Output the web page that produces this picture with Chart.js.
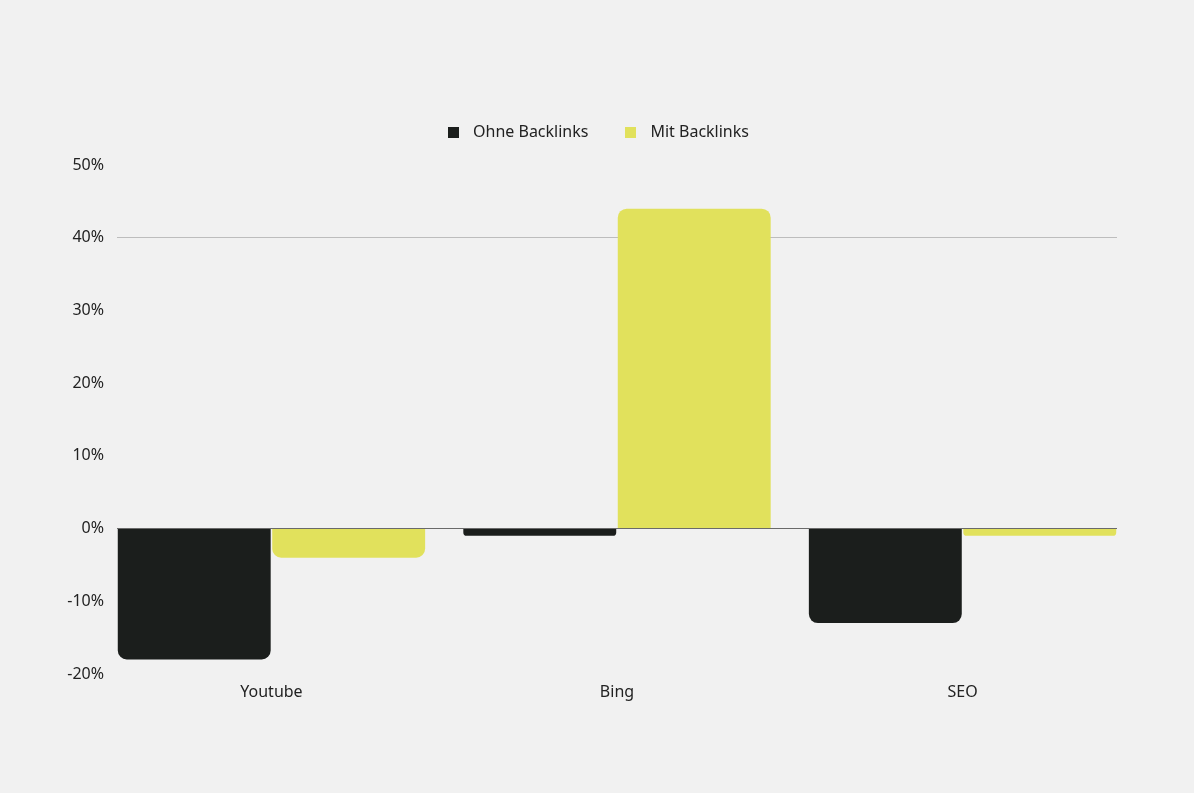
<!DOCTYPE html>
<html><head><meta charset="utf-8">
<script src="https://cdn.jsdelivr.net/npm/chart.js@4.4.1/dist/chart.umd.min.js"></script>
<style>html,body{margin:0;padding:0;background:#f1f1f1;}#wrap{width:1194px;height:793px;}</style>
</head><body><div id="wrap"><canvas id="c"></canvas></div>
<script>
const categories = ['Youtube', 'Bing', 'SEO'];
const ohneBacklinks = [-18, -1, -13];
const mitBacklinks = [-4, 44, -1];
const yTicks = [-20, -10, 0, 10, 20, 30, 40, 50];
const seriesColors = ['#1b1e1c', '#e1e15c'];

const FONT = "'Noto Sans', sans-serif";
Chart.defaults.font.family = FONT;
Chart.defaults.font.size = 16;
Chart.defaults.color = '#222222';

function squareIcon(color) {
  const c = document.createElement('canvas');
  c.width = 11; c.height = 11;
  const g = c.getContext('2d');
  g.fillStyle = color; g.fillRect(0, 0, 11, 11);
  return c;
}
const icons = seriesColors.map(squareIcon);

const legendFit = {
  id: 'legendFit',
  beforeInit(chart) {
    const orig = chart.legend.fit;
    chart.legend.fit = function () { orig.bind(chart.legend)(); this.height = 72; };
  },
  afterLayout(chart) {
    chart.legend.left += 7;
    chart.legend.right += 7;
  }
};

new Chart(document.getElementById('c'), {
  type: 'bar',
  data: {
    datasets: [
      { label: 'Ohne Backlinks', data: ohneBacklinks.map((v, i) => ({ x: i, y: v })), backgroundColor: seriesColors[0], borderRadius: 9, borderSkipped: 'start' },
      { label: 'Mit Backlinks', data: mitBacklinks.map((v, i) => ({ x: i, y: v })), backgroundColor: seriesColors[1], borderRadius: 9, borderSkipped: 'start' }
    ]
  },
  plugins: [legendFit],
  options: {
    responsive: true,
    maintainAspectRatio: false,
    animation: false,
    categoryPercentage: 0.894,
    barPercentage: 0.99,
    layout: { padding: { top: 93, left: 60, right: 77, bottom: 89 } },
    plugins: {
      legend: {
        position: 'top',
        labels: {
          usePointStyle: true,
          pointStyleWidth: 23,
          boxHeight: 11,
          padding: 31,
          font: { size: 16 },
          color: '#222222',
          generateLabels: chart => {
            const items = Chart.defaults.plugins.legend.labels.generateLabels(chart);
            items.forEach((it, i) => { it.pointStyle = icons[i]; });
            return items;
          }
        }
      },
      tooltip: { enabled: false }
    },
    scales: {
      x: {
        type: 'linear',
        offset: false,
        min: -0.447,
        max: 2.447,
        afterBuildTicks: axis => { axis.ticks = categories.map((_, i) => ({ value: i })); },
        afterFit: s => { s.height = 30; },
        ticks: { callback: v => categories[v] ?? '', padding: 9, color: '#222222' },
        grid: { display: false, drawTicks: false },
        border: { display: false }
      },
      y: {
        min: -20,
        max: 50,
        afterBuildTicks: axis => { axis.ticks = yTicks.map(v => ({ value: v })); },
        afterFit: s => { s.width = 57; },
        ticks: { callback: v => v + '%', padding: 13, color: '#222222' },
        grid: {
          drawTicks: false,
          color: ctx => ctx.tick && ctx.tick.value === 0 ? '#6a6a6a' : (ctx.tick && ctx.tick.value === 40 ? '#bdbdbd' : 'rgba(0,0,0,0)'),
          lineWidth: 1
        },
        border: { display: false }
      }
    }
  }
});
</script></body></html>
